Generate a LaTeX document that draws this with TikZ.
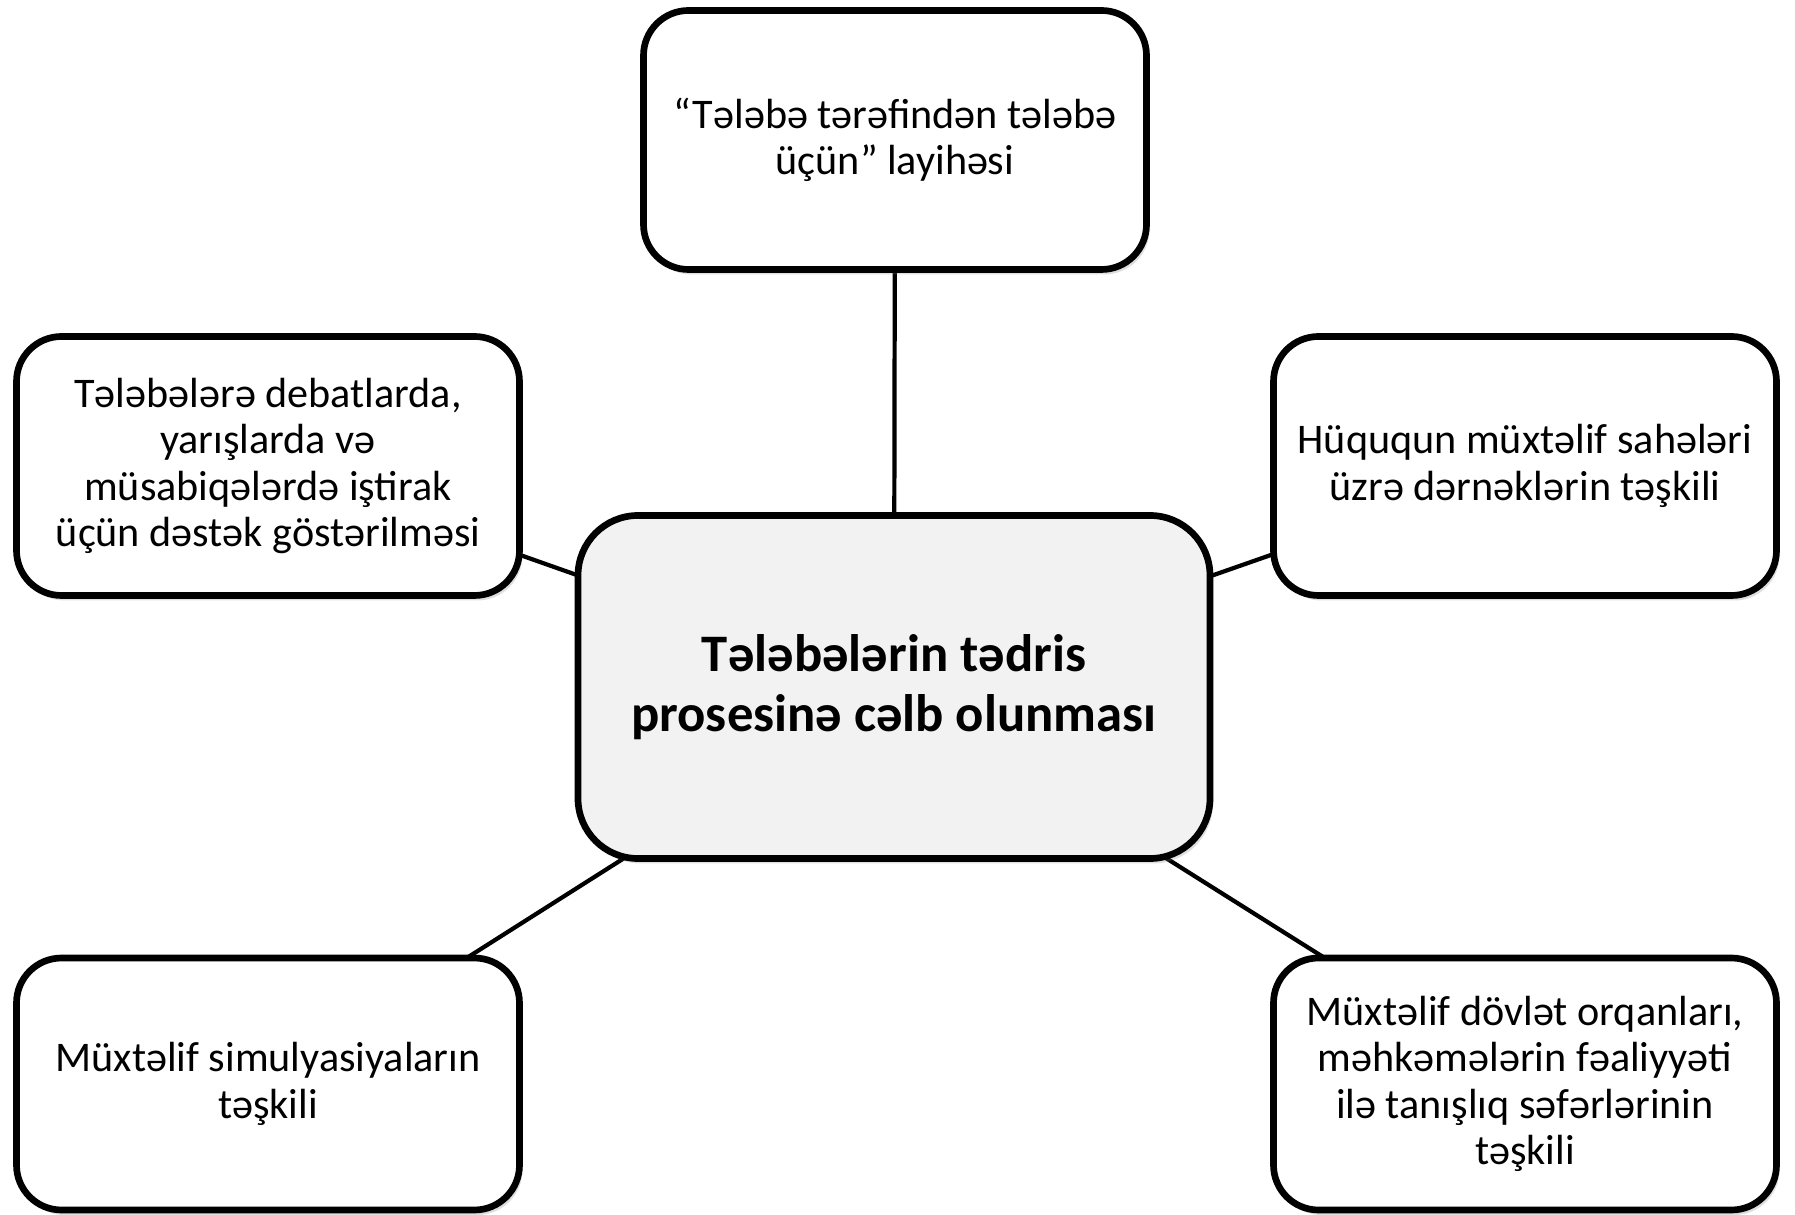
\documentclass[tikz,border=0pt]{standalone}
\usepackage{fontspec}
\setmainfont{Carlito}
\usetikzlibrary{positioning,shadows}
\definecolor{hubgray}{HTML}{F2F2F2}

\begin{document}
\begin{tikzpicture}[line width=1.9pt,
  leaf/.style={draw, rounded corners=0.45cm, fill=white, minimum width=5.03cm, minimum height=2.59cm,
    align=center, font=\fontsize{12}{13.2}\selectfont,
    drop shadow={opacity=0.25, shadow xshift=0.03cm, shadow yshift=-0.05cm}},
  hub/.style={draw, rounded corners=0.6cm, fill=hubgray, minimum width=6.32cm, minimum height=3.43cm,
    align=center, font=\fontsize{15}{17}\selectfont\bfseries,
    drop shadow={opacity=0.25, shadow xshift=0.03cm, shadow yshift=-0.05cm}},
  link/.style={line width=1.2pt}
]
\useasboundingbox (0,0) rectangle (17.95,12.15);

% Links (drawn first, under the boxes)
\coordinate (c0) at (8.94,5.28);
\coordinate (c1) at (8.95,10.75);
\coordinate (c2) at (2.68,7.49);
\coordinate (c3) at (15.25,7.49);
\coordinate (c4) at (2.68,1.31);
\coordinate (c5) at (15.25,1.31);
\foreach \i in {1,...,5} \draw[link] (c0) -- (c\i);

% Centre
\node[hub] (hub) at (c0) {Tələbələrin tədris\\prosesinə cəlb olunması};

% Upper row
\node[leaf] (top) at (c1) {“Tələbə tərəfindən tələbə\\üçün” layihəsi};
\node[leaf] (debate) at (c2) {Tələbələrə debatlarda,\\yarışlarda və\\müsabiqələrdə iştirak\\üçün dəstək göstərilməsi};
\node[leaf] (clubs) at (c3) {Hüququn müxtəlif sahələri\\üzrə dərnəklərin təşkili};

% Lower row
\node[leaf, minimum height=2.52cm] (sim) at (c4) {Müxtəlif simulyasiyaların\\təşkili};
\node[leaf, minimum height=2.52cm] (visit) at (c5) {Müxtəlif dövlət orqanları,\\məhkəmələrin fəaliyyəti\\ilə tanışlıq səfərlərinin\\təşkili};

\end{tikzpicture}
\end{document}
